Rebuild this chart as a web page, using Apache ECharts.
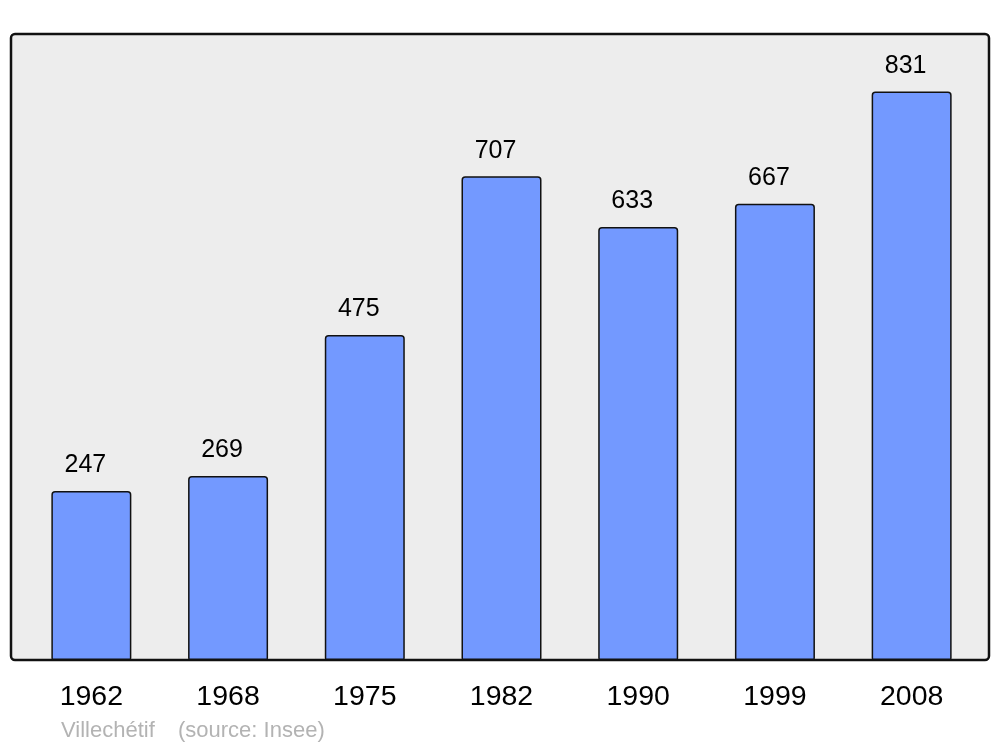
<!DOCTYPE html>
<html>
<head>
<meta charset="utf-8">
<script src="https://cdn.jsdelivr.net/npm/echarts@6/dist/echarts.min.js"></script>
<style>html,body{margin:0;padding:0;background:#fff}#c{width:1000px;height:747px}</style>
</head>
<body>
<div id="c"></div>
<script>
const years = ['1962', '1968', '1975', '1982', '1990', '1999', '2008'];
const population = [247, 269, 475, 707, 633, 667, 831];
const townName = 'Villechétif';
const sourceText = '(source: Insee)';

const chart = echarts.init(document.getElementById('c'), null, {renderer: 'canvas'});
chart.setOption({
  animation: false,
  backgroundColor: '#ffffff',
  textStyle: {fontFamily: 'Liberation Sans, Arial, sans-serif'},
  graphic: [
    {type: 'rect', z: -10, shape: {x: 11, y: 34, width: 978, height: 626, r: 4},
     style: {fill: '#ededed', stroke: '#111111', lineWidth: 2.5}},
    {type: 'text', left: 61, top: 720, style: {text: townName, fill: '#b3b3b3', font: '22px "Liberation Sans", Arial, sans-serif'}},
    {type: 'text', left: 178, top: 720, style: {text: sourceText, fill: '#b3b3b3', font: '22px "Liberation Sans", Arial, sans-serif'}}
  ],
  grid: {left: 23, right: 20, top: 34, bottom: 87, containLabel: false},
  xAxis: {
    type: 'category', data: years,
    axisLine: {show: false}, axisTick: {show: false},
    axisLabel: {color: '#000', fontSize: 28.5, margin: 23, fontFamily: 'Liberation Sans, Arial, sans-serif'}
  },
  yAxis: {type: 'value', min: 0, max: 915, show: false, splitLine: {show: false}},
  series: [{
    type: 'bar', data: population, barWidth: 80,
    itemStyle: {color: '#7399ff', borderColor: '#111111', borderWidth: 1.5, borderRadius: [3, 3, 1, 1]},
    label: {show: true, position: 'top', distance: 13, offset: [-6, 0], color: '#000', fontSize: 25,
            fontFamily: 'Liberation Sans, Arial, sans-serif'}
  }]
});
</script>
</body>
</html>
